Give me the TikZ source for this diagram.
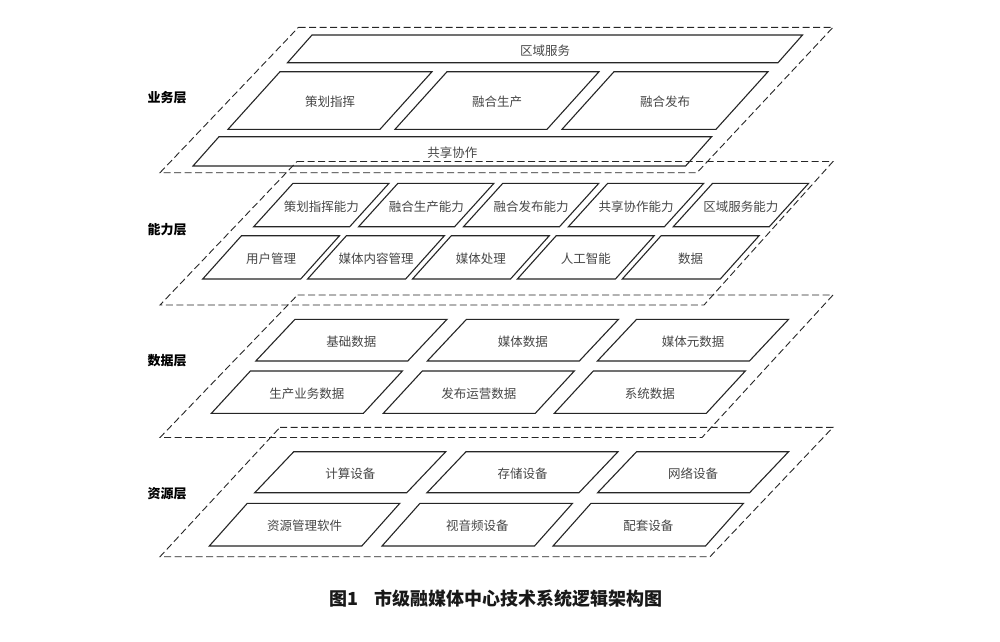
\documentclass[tikz,border=0pt]{standalone}
\usepackage{fontspec}
\newfontfamily\cjk{Noto Sans CJK SC}
\tikzset{
  boxline/.style={draw=black!85, line width=1.1pt, line join=miter},
  layerline/.style={draw=black!85, line width=0.9pt, dash pattern=on 7pt off 3.5pt},
  boxtext/.style={inner sep=0pt, text=black!72, yshift=-1.5pt, font=\cjk\fontsize{12.5}{14}\selectfont},
  layerlabel/.style={inner sep=0pt, text=black, font=\cjk\bfseries\fontsize{13}{15}\selectfont},
  captext/.style={inner sep=0pt, anchor=west, text=black!90, font=\cjk\bfseries\fontsize{18}{20}\selectfont}
}
% #1 name, #2 x of top-left, #3 y of top, #4 width, #5 height, #6 slant, #7 text
\newcommand\mypg[7]{%
  \draw[boxline] (#2,#3) -- ++(#4,0) -- ++(-#6,#5) -- ++(-#4,0) -- cycle;
  \node[boxtext] (#1) at ({#2+#4/2-#6/2},{#3+#5/2}) {#7};
}
\begin{document}
\begin{tikzpicture}[x=1pt,y=-1pt]
\useasboundingbox (0,0) rectangle (1000,641);
\fill[white] (0,0) rectangle (1000,641);

% dashed layer planes
\draw[layerline] (298.5,27.3) -- (833,27.3) -- (697,172.7) -- (160,172.7) -- cycle;
\draw[layerline] (297,161.5) -- (833,161.5) -- (704,305) -- (160,305) -- cycle;
\draw[layerline] (297.5,295) -- (833,295) -- (702,437.5) -- (160,437.5) -- cycle;
\draw[layerline] (280,427.3) -- (833,427.3) -- (710,556.7) -- (160,556.7) -- cycle;

% layer labels
\node[layerlabel] (l1) at (167,97.5) {业务层};
\node[layerlabel] (l2) at (167,230) {能力层};
\node[layerlabel] (l3) at (167,361) {数据层};
\node[layerlabel] (l4) at (167,494) {资源层};

% business layer
\mypg{qyfw}{312}{35}{490.5}{27.7}{24.5}{区域服务}
\mypg{chzh}{280}{71.7}{152}{57.6}{52}{策划指挥}
\mypg{rhsc}{447}{71.7}{152}{57.6}{52}{融合生产}
\mypg{rhfb}{614}{71.7}{154}{57.6}{52}{融合发布}
\mypg{gxxz}{219}{136.7}{492.6}{29.3}{26}{共享协作}

% capability layer
\mypg{c11}{293}{183.3}{96}{43.4}{39.3}{策划指挥能力}
\mypg{c12}{397.9}{183.3}{96}{43.4}{39.3}{融合生产能力}
\mypg{c13}{502.8}{183.3}{96}{43.4}{39.3}{融合发布能力}
\mypg{c14}{607.7}{183.3}{96}{43.4}{39.3}{共享协作能力}
\mypg{c15}{712.6}{183.3}{96}{43.4}{39.3}{区域服务能力}
\mypg{c21}{241.5}{235.7}{98}{43.3}{38.8}{用户管理}
\mypg{c22}{346.4}{235.7}{98}{43.3}{38.8}{媒体内容管理}
\mypg{c23}{451.3}{235.7}{98}{43.3}{38.8}{媒体处理}
\mypg{c24}{556.2}{235.7}{98}{43.3}{38.8}{人工智能}
\mypg{c25}{661.1}{235.7}{98}{43.3}{38.8}{数据}

% data layer
\mypg{d11}{295}{319.3}{152}{41.7}{39.2}{基础数据}
\mypg{d12}{466.5}{319.3}{152}{41.7}{39.2}{媒体数据}
\mypg{d13}{636.6}{319.3}{152}{41.7}{39.2}{媒体元数据}
\mypg{d21}{250.4}{371}{152}{42.3}{39}{生产业务数据}
\mypg{d22}{422.3}{371}{152}{42.3}{39}{发布运营数据}
\mypg{d23}{593.3}{371}{152}{42.3}{39}{系统数据}

% resource layer
\mypg{r11}{293.75}{451.7}{152}{41}{39}{计算设备}
\mypg{r12}{466}{451.7}{152}{41}{39}{存储设备}
\mypg{r13}{636.6}{451.7}{152}{41}{39}{网络设备}
\mypg{r21}{247.3}{503.3}{152.5}{42.7}{38}{资源管理软件}
\mypg{r22}{420}{503.3}{152.5}{42.7}{38}{视音频设备}
\mypg{r23}{591}{503.3}{152.5}{42.7}{38}{配套设备}

% caption
\node[captext] (cap1) at (329,599) {图1};
\node[captext] (cap2) at (374,599) {市级融媒体中心技术系统逻辑架构图};
\end{tikzpicture}
\end{document}
